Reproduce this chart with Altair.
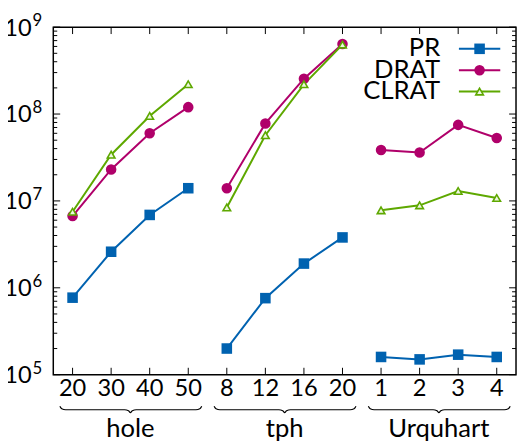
import altair as alt
import pandas as pd
import numpy as np

FONT = "Lato"

groups = ["hole", "tph", "Urquhart"]
tick_labels = ["20", "30", "40", "50", "8", "12", "16", "20", "1", "2", "3", "4"]
series = ["PR", "DRAT", "CLRAT"]
pr = [7.7e5, 2.6e6, 6.9e6, 1.4e7, 2.0e5, 7.6e5, 1.9e6, 3.8e6, 1.6e5, 1.5e5, 1.7e5, 1.6e5]
drat = [6.7e6, 2.3e7, 6.0e7, 1.2e8, 1.4e7, 7.8e7, 2.55e8, 6.4e8, 3.85e7, 3.6e7, 7.5e7, 5.3e7]
clrat = [7.5e6, 3.4e7, 9.5e7, 2.2e8, 8.4e6, 5.7e7, 2.2e8, 6.3e8, 7.8e6, 8.9e6, 1.3e7, 1.08e7]
colors = ["#0062b0", "#b0006a", "#5ea800"]
exponents = [5, 6, 7, 8, 9]

W, H = 470, 353
n = len(tick_labels)
per = n // len(groups)

rows = []
for s, vals in zip(series, [pr, drat, clrat]):
    for i, v in enumerate(vals):
        rows.append({"pos": i, "group": groups[i // per], "series": s, "value": v})
df = pd.DataFrame(rows)

xs = alt.Scale(domain=[-0.5, n - 0.5], nice=False, zero=False)
ys = alt.Scale(type="log", domain=[1e5, 1e9], nice=False)
cs = alt.Scale(domain=series, range=colors)
X = alt.X("pos:Q", scale=xs, axis=None)
Y = alt.Y("value:Q", scale=ys, axis=None)

base = alt.Chart(df)
lines = base.mark_line(strokeWidth=2).encode(
    x=X, y=Y, color=alt.Color("series:N", scale=cs, legend=None), detail="group:N")
filled_pts = base.transform_filter(alt.datum.series != "CLRAT").mark_point(
    filled=True, opacity=1, size=115).encode(
    x=X, y=Y, color=alt.Color("series:N", scale=cs, legend=None),
    shape=alt.Shape("series:N", scale=alt.Scale(domain=series, range=["square", "circle", "triangle-up"]), legend=None))
tri_pts = base.transform_filter(alt.datum.series == "CLRAT").mark_point(
    filled=True, opacity=1, size=60, fill="#eef6e2", stroke=colors[2], strokeWidth=1.6, shape="triangle-up").encode(
    x=X, y=Y)

# x ticks and labels
xt = pd.DataFrame({"pos": list(range(n)), "label": tick_labels})
xtick_b = alt.Chart(xt).mark_rule(color="black", strokeWidth=1).encode(
    x=X, y=alt.value(H), y2=alt.value(H - 7))
xtick_t = alt.Chart(xt).mark_rule(color="black", strokeWidth=1).encode(
    x=X, y=alt.value(0), y2=alt.value(7))
xlab = alt.Chart(xt).mark_text(font=FONT, fontSize=24, baseline="alphabetic", color="black").encode(
    x=X, y=alt.value(H + 22), text="label:N")

# y ticks and labels
ymaj = pd.DataFrame({"value": [10.0 ** k for k in exponents], "base": "10", "exp": [str(k) for k in exponents]})
ymin = pd.DataFrame({"value": [m * 10.0 ** k for k in exponents[:-1] for m in range(2, 10)]})
ytl = alt.Chart(ymaj).mark_rule(color="black").encode(y=Y, x=alt.value(0), x2=alt.value(7))
ytr = alt.Chart(ymaj).mark_rule(color="black").encode(y=Y, x=alt.value(W), x2=alt.value(W - 7))
ymtl = alt.Chart(ymin).mark_rule(color="black").encode(y=Y, x=alt.value(0), x2=alt.value(4))
ymtr = alt.Chart(ymin).mark_rule(color="black").encode(y=Y, x=alt.value(W), x2=alt.value(W - 4))
ylab = alt.Chart(ymaj).mark_text(font=FONT, fontSize=24, align="right", baseline="alphabetic", dy=8.5, color="black").encode(
    y=Y, x=alt.value(-22), text="base:N")
yexp = alt.Chart(ymaj).mark_text(font=FONT, fontSize=17, align="left", baseline="alphabetic", dy=-1, dx=1, color="black").encode(
    y=Y, x=alt.value(-22), text="exp:N")

# group braces and labels (derived from the group extents)
brace_rows = []
gl_rows = []
for gi, g in enumerate(groups):
    s0 = gi * per - 0.33
    e0 = gi * per + per - 1 + 0.35
    m = (gi * per + gi * per + per - 1) / 2
    pts = [(s0, 385), (s0 + 0.05, 387.6), (s0 + 0.15, 388.6), (m - 0.15, 388.6), (m - 0.05, 389.6), (m, 391.5),
           (m + 0.05, 389.6), (m + 0.15, 388.6), (e0 - 0.15, 388.6), (e0 - 0.05, 387.6), (e0, 385)]
    for k, (px, py) in enumerate(pts):
        brace_rows.append({"group": g, "pos": px, "py": py, "k": k})
    gl_rows.append({"group": g, "pos": m})
brace = alt.Chart(pd.DataFrame(brace_rows)).mark_line(color="black", strokeWidth=1.2, interpolate="monotone").encode(
    x=X, y=alt.Y("py:Q", scale=None, axis=None), detail="group:N", order="k:Q")
glab = alt.Chart(pd.DataFrame(gl_rows)).mark_text(font=FONT, fontSize=26, baseline="alphabetic", color="black").encode(
    x=X, y=alt.value(416), text="group:N")

# legend
leg_layers = []
for i, s in enumerate(series):
    yy = 22 + 21.7 * i
    d = pd.DataFrame({"series": [s]})
    leg_layers.append(alt.Chart(d).mark_rule(color=colors[i], strokeWidth=2).encode(
        x=alt.value(412), x2=alt.value(454), y=alt.value(yy)))
    if s == "CLRAT":
        leg_layers.append(alt.Chart(d).mark_point(filled=True, opacity=1, size=60, fill="#eef6e2", stroke=colors[i],
                                                  strokeWidth=1.6, shape="triangle-up").encode(
            x=alt.value(433), y=alt.value(yy)))
    else:
        leg_layers.append(alt.Chart(d).mark_point(filled=True, opacity=1, size=115, color=colors[i],
                                                  shape="square" if s == "PR" else "circle").encode(
            x=alt.value(433), y=alt.value(yy)))
    leg_layers.append(alt.Chart(d).mark_text(font=FONT, fontSize=26, align="right", baseline="alphabetic", color="black").encode(
        x=alt.value(393), y=alt.value(yy + 7.5), text="series:N"))

chart = alt.layer(
    xtick_b, xtick_t, ytl, ytr, ymtl, ymtr,
    lines, filled_pts, tri_pts,
    xlab, ylab, yexp, brace, glab, *leg_layers
).properties(
    width=W, height=H,
    autosize=alt.AutoSizeParams(type="none"),
    padding={"left": 46, "top": 16, "right": 1, "bottom": 70},
).configure_view(stroke="black", strokeWidth=1.5)

chart.save("out.html", embed_options={"renderer": "svg", "actions": False})
